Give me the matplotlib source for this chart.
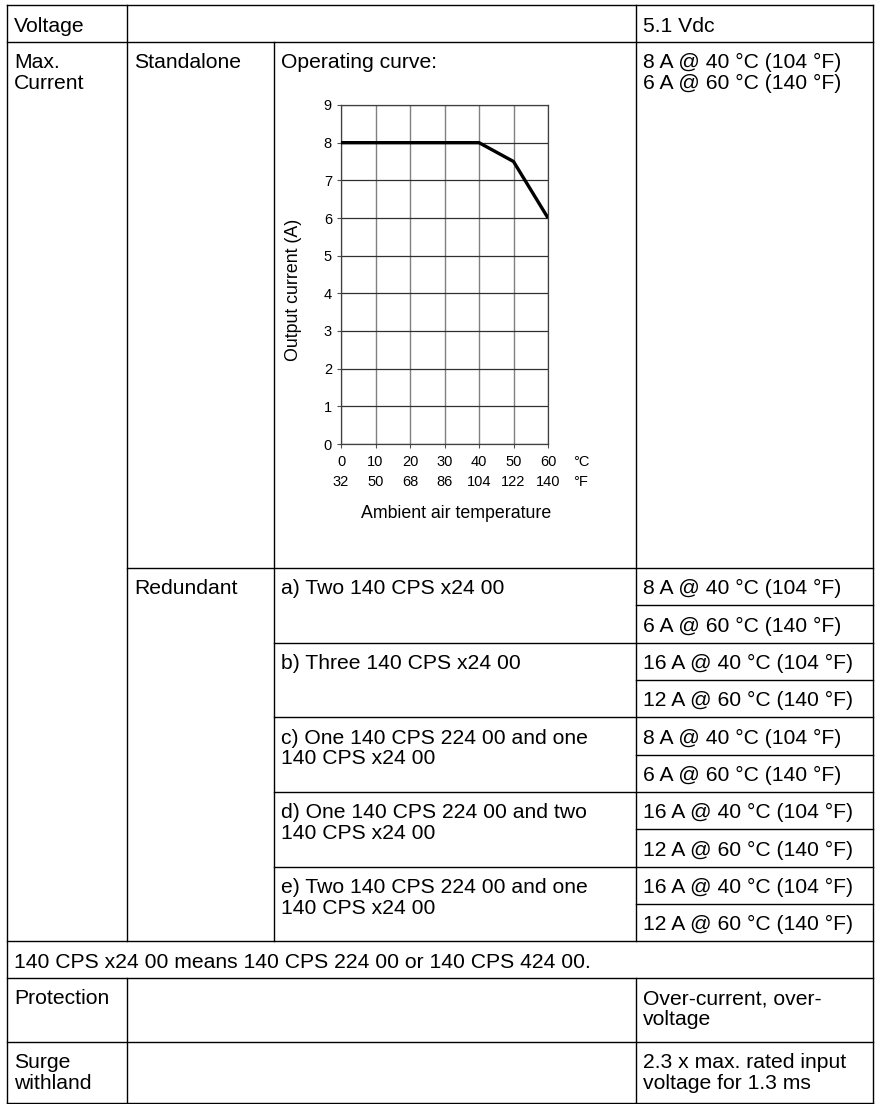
import matplotlib
matplotlib.use('Agg')
import matplotlib.pyplot as plt
from matplotlib.lines import Line2D

plt.rcParams['font.family'] = ['Liberation Sans', 'DejaVu Sans']

# data -------------
temp_c = [0, 40, 50, 60]            # ambient temperature (degC)
current_a = [8, 8, 7.5, 6]          # output current (A)
c_ticks = [0, 10, 20, 30, 40, 50, 60]
f_ticks = [32, 50, 68, 86, 104, 122, 140]
a_ticks = [0, 1, 2, 3, 4, 5, 6, 7, 8, 9]

voltage_label = "Voltage"
voltage_value = "5.1 Vdc"
current_label = "Max.\nCurrent"
standalone_label = "Standalone"
standalone_text = "Operating curve:"
standalone_rating = "8 A @ 40 °C (104 °F)\n6 A @ 60 °C (140 °F)"
redundant_label = "Redundant"
redundant_configs = ["a) Two 140 CPS x24 00",
                     "b) Three 140 CPS x24 00",
                     "c) One 140 CPS 224 00 and one\n140 CPS x24 00",
                     "d) One 140 CPS 224 00 and two\n140 CPS x24 00",
                     "e) Two 140 CPS 224 00 and one\n140 CPS x24 00"]
redundant_at_40 = ["8 A @ 40 °C (104 °F)", "16 A @ 40 °C (104 °F)", "8 A @ 40 °C (104 °F)",
                   "16 A @ 40 °C (104 °F)", "16 A @ 40 °C (104 °F)"]
redundant_at_60 = ["6 A @ 60 °C (140 °F)", "12 A @ 60 °C (140 °F)", "6 A @ 60 °C (140 °F)",
                   "12 A @ 60 °C (140 °F)", "12 A @ 60 °C (140 °F)"]
footnote = "140 CPS x24 00 means 140 CPS 224 00 or 140 CPS 424 00."
protection_label = "Protection"
protection_value = "Over-current, over-\nvoltage"
surge_label = "Surge\nwithland"
surge_value = "2.3 x max. rated input\nvoltage for 1.3 ms"

# layout (pixels, from top-left) -------------
W, H = 875, 1104
L, R = 7, 873
C1, C2, C3 = 127, 274, 636
TOP, BOT = 5, 1103
ROW1 = 42
RED_TOP = 568
SUB = 37.33
RED_BOT = RED_TOP + 10 * SUB
FOOT_BOT = 978
PROT_BOT = 1042
FS = 15.2
PAD = 7
BASE = 26.5
LINE_H = 20.5

fig = plt.figure(figsize=(W / 100, H / 100), dpi=100)

def fx(x):
    return x / W

def fy(y):
    return 1 - y / H

def hline(y, x0, x1):
    fig.add_artist(Line2D([fx(x0), fx(x1)], [fy(y), fy(y)], transform=fig.transFigure,
                          color='black', lw=1.0))

def vline(x, y0, y1):
    fig.add_artist(Line2D([fx(x), fx(x)], [fy(y0), fy(y1)], transform=fig.transFigure,
                          color='black', lw=1.0))

def cell(text, x, top):
    for i, line in enumerate(text.split('\n')):
        fig.text(fx(x + PAD), fy(top + BASE + i * LINE_H), line, fontsize=FS,
                 ha='left', va='baseline', color='black')

# table grid
for y in [TOP, ROW1, RED_BOT, FOOT_BOT, PROT_BOT, BOT]:
    hline(y, L, R)
hline(RED_TOP, C1, R)
for i in range(1, 10):
    hline(RED_TOP + i * SUB, C3 if i % 2 else C2, R)
vline(L, TOP, BOT)
vline(R, TOP, BOT)
vline(C1, TOP, RED_BOT)
vline(C1, FOOT_BOT, BOT)
vline(C2, ROW1, RED_BOT)
vline(C3, TOP, RED_BOT)
vline(C3, FOOT_BOT, BOT)

# table texts
cell(voltage_label, L, TOP)
cell(voltage_value, C3, TOP)
cell(current_label, L, ROW1)
cell(standalone_label, C1, ROW1)
cell(standalone_text, C2, ROW1)
cell(standalone_rating, C3, ROW1)
cell(redundant_label, C1, RED_TOP)
for k in range(len(redundant_configs)):
    top = RED_TOP + 2 * k * SUB
    cell(redundant_configs[k], C2, top)
    cell(redundant_at_40[k], C3, top)
    cell(redundant_at_60[k], C3, top + SUB)
cell(footnote, L, RED_BOT)
cell(protection_label, L, FOOT_BOT)
cell(protection_value, C3, FOOT_BOT)
cell(surge_label, L, PROT_BOT)
cell(surge_value, C3, PROT_BOT)

# operating curve
ax_l, ax_r, ax_t, ax_b = 341, 548, 105, 444
ax = fig.add_axes([fx(ax_l), fy(ax_b), (ax_r - ax_l) / W, (ax_b - ax_t) / H])
ax.plot(temp_c, current_a, color='black', lw=2.4, solid_capstyle='butt', zorder=3)
ax.set_xlim(0, 60)
ax.set_ylim(0, 9)
ax.set_xticks(c_ticks)
ax.set_yticks(a_ticks)
ax.tick_params(direction='out', length=3, width=0.8, color='#505050', labelsize=10.5)
ax.tick_params(axis='x', pad=5)
ax.tick_params(axis='y', pad=3.5)
ax.grid(axis='x', color='#808080', lw=1.0)
ax.grid(axis='y', color='#303030', lw=0.9)
for s in ax.spines.values():
    s.set_color('#404040')
    s.set_linewidth(0.9)

sec = ax.secondary_xaxis(-20 / (ax_b - ax_t),
                         functions=(lambda c: c * 9 / 5 + 32, lambda f: (f - 32) * 5 / 9))
sec.set_xticks(f_ticks)
sec.tick_params(direction='out', length=3, width=0, pad=5, labelsize=10.5)
sec.spines['bottom'].set_visible(False)

ax.text(60 + (573 - ax_r) / (ax_r - ax_l) * 60, -(455 - ax_b) / (ax_b - ax_t), "°C",
        transform=ax.get_xaxis_transform(), ha='left', va='top', fontsize=10.5)
ax.text(60 + (573 - ax_r) / (ax_r - ax_l) * 60, -(475 - ax_b) / (ax_b - ax_t), "°F",
        transform=ax.get_xaxis_transform(), ha='left', va='top', fontsize=10.5)

ax.set_xlabel("Ambient air temperature", fontsize=12.8, va='baseline')
ax.xaxis.set_label_coords((456 - ax_l) / (ax_r - ax_l), -(518 - ax_b) / (ax_b - ax_t))
ax.set_ylabel("Output current (A)", fontsize=12.8, va='center')
ax.yaxis.set_label_coords(-(ax_l - 294) / (ax_r - ax_l), (ax_b - 290) / (ax_b - ax_t))

fig.savefig('out.png', dpi=100)
